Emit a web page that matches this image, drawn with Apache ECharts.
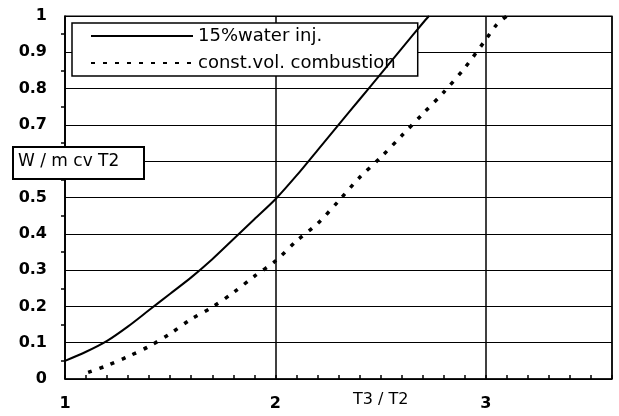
<!DOCTYPE html>
<html>
<head>
<meta charset="utf-8">
<script src="https://cdn.jsdelivr.net/npm/echarts@6/dist/echarts.min.js"></script>
<style>html,body{margin:0;padding:0;background:#fff}#c{width:619px;height:416px}</style>
</head>
<body>
<div id="c"></div>
<script>
// Data
var waterX = [1.0, 1.1, 1.2, 1.3, 1.4, 1.5, 1.6, 1.7, 1.8, 1.9, 2.0, 2.1, 2.2, 2.3, 2.4, 2.5, 2.6, 2.7, 2.73];
var waterY = [0.05, 0.075, 0.105, 0.145, 0.19, 0.235, 0.28, 0.33, 0.385, 0.44, 0.495, 0.56, 0.63, 0.70, 0.77, 0.84, 0.91, 0.98, 1.0];
var cvX = [1.11, 1.2, 1.3, 1.4, 1.5, 1.6, 1.7, 1.8, 1.9, 2.0, 2.1, 2.2, 2.3, 2.4, 2.5, 2.6, 2.7, 2.8, 2.9, 3.0, 3.05, 3.1];
var cvY = [0.018, 0.037, 0.062, 0.09, 0.125, 0.165, 0.198, 0.238, 0.283, 0.325, 0.38, 0.428, 0.49, 0.555, 0.61, 0.67, 0.73, 0.79, 0.857, 0.935, 0.975, 1.0];
var xTickLabels = ['1', '2', '3'];
var seriesNames = ['15%water inj.', 'const.vol. combustion'];
var yTitle = 'W / m cv T2';
var xTitle = 'T3 / T2';

function pairs(xs, ys) { return xs.map(function (x, i) { return [x, ys[i]]; }); }

var chart = echarts.init(document.getElementById('c'), null, { renderer: 'canvas' });
chart.setOption({
  animation: false,
  backgroundColor: '#fff',
  grid: { left: 65, right: 7, top: 16, bottom: 37, show: true, borderColor: '#000', borderWidth: 1.2, backgroundColor: 'transparent' },
  legend: {
    orient: 'vertical', left: 72, top: 23,
    backgroundColor: '#fff', borderColor: '#000', borderWidth: 1.5,
    padding: [4, 22, 4, 18], itemGap: 9, itemWidth: 102, itemHeight: 14,
    itemStyle: { opacity: 0 },
    textStyle: { fontFamily: 'DejaVu Sans', fontSize: 18, color: '#000' },
    data: seriesNames
  },
  xAxis: [{
    type: 'value', min: 1, max: 3.6, interval: 1,
    axisLine: { lineStyle: { color: '#000', width: 1.5 } },
    axisTick: { show: false },
    splitLine: { show: true, lineStyle: { color: '#000', width: 1.5 } },
    axisLabel: {
      margin: 17, color: '#000', fontFamily: 'DejaVu Sans', fontWeight: 'bold', fontSize: 16,
      formatter: function (v) { var s = String(Math.round(v)); return (Math.abs(v - Math.round(v)) < 1e-6 && xTickLabels.indexOf(s) >= 0) ? s : ''; }
    }
  }, {
    type: 'value', min: 1, max: 3.6, interval: 0.1, position: 'bottom',
    axisLine: { show: false },
    axisTick: { show: true, inside: true, length: 4, lineStyle: { color: '#000', width: 1.5 } },
    axisLabel: { show: false }, splitLine: { show: false }
  }],
  yAxis: {
    type: 'value', min: 0, max: 1, interval: 0.1,
    axisLine: { show: true, lineStyle: { color: '#000', width: 1.5 } },
    axisTick: { show: false },
    minorTick: { show: true, splitNumber: 2, length: 4, lineStyle: { color: '#000', width: 1.5 } },
    splitLine: { show: true, lineStyle: { color: '#000', width: 1.2 } },
    axisLabel: {
      margin: 18, color: '#000', fontFamily: 'DejaVu Sans', fontWeight: 'bold', fontSize: 16,
      formatter: function (v) { if (Math.abs(v - 0.6) < 1e-6) return ''; return Math.abs(v - 1) < 1e-6 ? '1' : (v === 0 ? '0' : v.toFixed(1)); }
    }
  },
  series: [{
    name: seriesNames[0], type: 'line', data: pairs(waterX, waterY), smooth: 0.3,
    showSymbol: false, symbol: 'none', clip: true, z: 5,
    lineStyle: { color: '#000', width: 2 }, itemStyle: { color: '#000' }
  }, {
    name: seriesNames[1], type: 'line', data: pairs(cvX, cvY), smooth: 0.3,
    showSymbol: false, symbol: 'none', clip: true, z: 5,
    lineStyle: { color: '#000', width: 3.5, type: [4, 8], cap: 'butt' }, itemStyle: { color: '#000' }
  }],
  graphic: [{
    type: 'rect', left: 12, top: 146, z: 100, zlevel: 1,
    shape: { x: 0, y: 0, width: 131, height: 32 },
    style: { fill: '#fff', stroke: '#000', lineWidth: 2 }
  }, {
    type: 'text', left: 18, top: 153, z: 101, zlevel: 1,
    style: { text: yTitle, fill: '#000', font: '17px "DejaVu Sans"' }
  }, {
    type: 'text', left: 353, top: 392, z: 100,
    style: { text: xTitle, fill: '#000', font: '500 16px "DejaVu Sans"' }
  }]
});
</script>
</body>
</html>
